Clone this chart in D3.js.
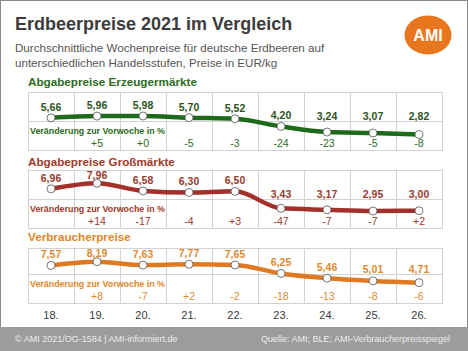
<!DOCTYPE html>
<html><head><meta charset="utf-8">
<script src="https://cdnjs.cloudflare.com/ajax/libs/d3/7.8.5/d3.min.js"></script>
<style>body{margin:0;background:#fff;}svg{display:block;font-family:"Liberation Sans",Arial,sans-serif;}</style>
</head><body>
<script>
const weeks = ["18.","19.","20.","21.","22.","23.","24.","25.","26."];
const erzeugerPrices = [5.66,5.96,5.98,5.70,5.52,4.20,3.24,3.07,2.82];
const erzeugerChange = ["","+5","+0","-5","-3","-24","-23","-5","-8"];
const grossPrices = [6.96,7.96,6.58,6.30,6.50,3.43,3.17,2.95,3.00];
const grossChange = ["","+14","-17","-4","+3","-47","-7","-7","+2"];
const verbraucherPrices = [7.57,8.19,7.63,7.77,7.65,6.25,5.46,5.01,4.71];
const verbraucherChange = ["","+8","-7","+2","-2","-18","-13","-8","-6"];
const panelTitles = ["Abgabepreise Erzeugermärkte","Abgabepreise Großmärkte","Verbraucherpreise"];

const W=468,H=351;
const svg=d3.select("body").append("svg").attr("width",W).attr("height",H);
svg.append("rect").attr("x",0.5).attr("y",0.5).attr("width",W-1).attr("height",H-1).attr("fill","#fff").attr("stroke","#8a8a8a");

// header
svg.append("text").attr("x",15).attr("y",30).attr("font-size",18).attr("font-weight","bold").attr("fill","#3c3c3c").text("Erdbeerpreise 2021 im Vergleich");
svg.append("text").attr("x",15).attr("y",52).attr("font-size",11.6).attr("fill","#555").text("Durchschnittliche Wochenpreise für deutsche Erdbeeren auf");
svg.append("text").attr("x",15).attr("y",67).attr("font-size",11.6).attr("fill","#555").text("unterschiedlichen Handelsstufen, Preise in EUR/kg");
svg.append("ellipse").attr("cx",428).attr("cy",35).attr("rx",23.5).attr("ry",19.5).attr("fill","#e8761c");
svg.append("text").attr("x",428).attr("y",41).attr("text-anchor","middle").attr("font-size",16).attr("font-weight","bold").attr("fill","#fff").text("AMI");

const x=d3.scaleBand().domain(weeks).range([28,442]).padding(0);

const panels=[
 {title:panelTitles[0],prices:erzeugerPrices,change:erzeugerChange,titleY:86,top:92,mid:121,bot:150,yr:[134.5,116],
  line:"#1d6a1a",title_c:"#2d6b22",lab:"#2c5424",chg:"#2d6b22"},
 {title:panelTitles[1],prices:grossPrices,change:grossChange,titleY:166,top:170,mid:199,bot:228,yr:[211,183.3],
  line:"#a3302a",title_c:"#a03a2c",lab:"#983a2e",chg:"#983a2e"},
 {title:panelTitles[2],prices:verbraucherPrices,change:verbraucherChange,titleY:241,top:248,mid:274,bot:303,yr:[282.7,261.7],
  line:"#e07a22",title_c:"#e0862a",lab:"#df8a30",chg:"#df8a30"}
];

panels.forEach(p=>{
  const g=svg.append("g");
  g.append("text").attr("x",28).attr("y",p.titleY).attr("font-size",11.7).attr("font-weight","bold").attr("fill",p.title_c).text(p.title);
  // grid
  g.append("rect").attr("x",x.range()[0]+0.5).attr("y",p.top+0.5).attr("width",x.range()[1]-x.range()[0]).attr("height",p.bot-p.top).attr("fill","none").attr("stroke","#d2d2d2");
  g.append("line").attr("x1",x.range()[0]).attr("x2",x.range()[1]).attr("y1",p.mid+0.5).attr("y2",p.mid+0.5).attr("stroke","#d2d2d2");
  weeks.slice(1).forEach(w=>{
    g.append("line").attr("x1",Math.round(x(w))+0.5).attr("x2",Math.round(x(w))+0.5).attr("y1",p.top).attr("y2",p.bot).attr("stroke","#d2d2d2");
  });
  const y=d3.scaleLinear().domain([d3.min(p.prices),d3.max(p.prices)]).range(p.yr);
  const cx=i=>x(weeks[i])+x.bandwidth()/2;
  g.append("path").datum(p.prices).attr("fill","none").attr("stroke",p.line).attr("stroke-width",4.5)
    .attr("d",d3.line().x((d,i)=>cx(i)).y(d=>y(d)).curve(d3.curveMonotoneX));
  g.selectAll("circle").data(p.prices).join("circle").attr("cx",(d,i)=>cx(i)).attr("cy",d=>y(d)).attr("r",4)
    .attr("fill","#fff").attr("stroke","#555").attr("stroke-width",0.8);
  g.selectAll("text.v").data(p.prices).join("text").attr("class","v").attr("x",(d,i)=>cx(i))
    .attr("y",d=>Math.max(p.top+8.5,Math.min(y(d)-7,p.mid-1.5))).attr("text-anchor","middle").attr("font-size",10.5).attr("font-weight","bold")
    .attr("fill",p.lab).text(d=>d.toFixed(2).replace(".",","));
  g.append("text").attr("x",30).attr("y",p.mid+12.5).attr("font-size",8.9).attr("font-weight","bold").attr("fill",p.title_c).text("Veränderung zur Vorwoche in %");
  g.selectAll("text.c").data(p.change).join("text").attr("class","c").attr("x",(d,i)=>cx(i))
    .attr("y",p.bot-3.5).attr("text-anchor","middle").attr("font-size",10.5).attr("fill",p.chg).text(d=>d);
});

svg.append("g").selectAll("text").data(weeks).join("text").attr("x",d=>x(d)+x.bandwidth()/2).attr("y",319)
  .attr("text-anchor","middle").attr("font-size",11).attr("fill","#3a3a3a").text(d=>d);

// footer
svg.append("rect").attr("x",0).attr("y",327).attr("width",W).attr("height",H-327).attr("fill","#9c9c9c");
svg.append("text").attr("x",15).attr("y",342).attr("font-size",9).attr("fill","#ececec").text("© AMI 2021/OG-1584 | AMI-informiert.de");
svg.append("text").attr("x",450).attr("y",342).attr("text-anchor","end").attr("font-size",9).attr("fill","#ececec").text("Quelle: AMI; BLE; AMI-Verbraucherpreisspiegel");
</script>
</body></html>
